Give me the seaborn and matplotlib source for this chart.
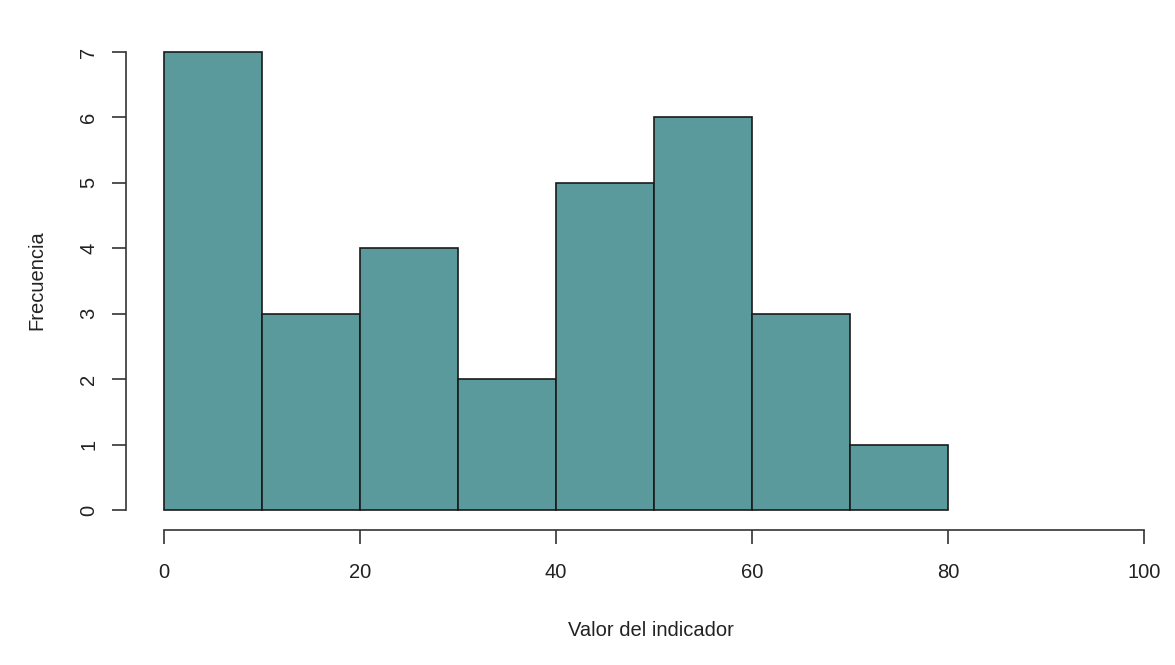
import numpy as np
import pandas as pd
import matplotlib.pyplot as plt
import seaborn as sns

# histogram bins
bin_edges = [0, 10, 20, 30, 40, 50, 60, 70, 80]
counts = [7, 3, 4, 2, 5, 6, 3, 1]
x_ticks = [0, 20, 40, 60, 80, 100]
y_ticks = [0, 1, 2, 3, 4, 5, 6, 7]

df = pd.DataFrame({'valor': np.array(bin_edges[:-1]) + 5, 'n': counts})

sns.set_style('white')
plt.rcParams['font.family'] = ['Liberation Sans', 'DejaVu Sans']

fig = plt.figure(figsize=(11.75, 6.65), dpi=100)
W, H = 1175, 665
# pixel geometry: x 0 -> 164px, 100 -> 1144px ; y 0 -> 510px, 7 -> 52px
px_x = (1144 - 164) / 100
px_y = (510 - 52) / 7
left, right, bottom, top = 126, 1175, 530, 30
ax = fig.add_axes([left / W, (H - bottom) / H, (right - left) / W, (bottom - top) / H])

sns.histplot(data=df, x='valor', weights='n', bins=bin_edges, color='#5b9a9c',
             alpha=1, edgecolor='#1a1a1a', linewidth=1.2, ax=ax)

ax.set_xlim((left - 164) / px_x, (right - 164) / px_x)
ax.set_ylim(-(bottom - 510) / px_y, 7 + (52 - top) / px_y)

for s in ['top', 'right']:
    ax.spines[s].set_visible(False)
ax.spines['bottom'].set_bounds(0, 100)
ax.spines['left'].set_bounds(0, 7)
for s in ['bottom', 'left']:
    ax.spines[s].set_color('#333333')
    ax.spines[s].set_linewidth(1.2)

ax.set_xticks(x_ticks)
ax.set_yticks(y_ticks)
ax.tick_params(axis='both', length=10, width=1.2, color='#333333', labelsize=14.5,
               labelcolor='#222222', left=True, bottom=True)
ax.tick_params(axis='x', pad=14)
ax.tick_params(axis='y', pad=10)
plt.setp(ax.get_yticklabels(), rotation=90, va='center')

ax.set_xlabel('Valor del indicador', fontsize=14.5, color='#222222', labelpad=28)
ax.set_ylabel('Frecuencia', fontsize=14.5, color='#222222', labelpad=24)

fig.savefig('out.png', dpi=100)
